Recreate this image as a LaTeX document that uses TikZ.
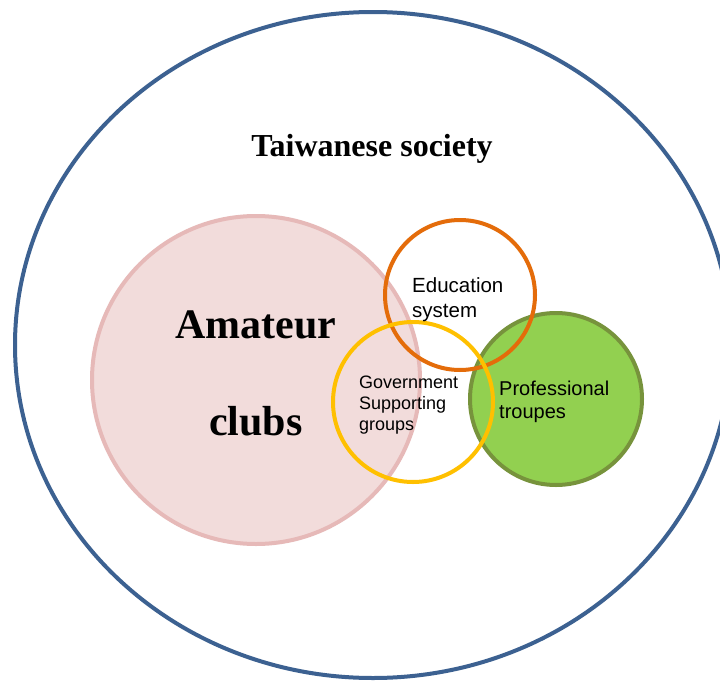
\documentclass[tikz,border=0pt]{standalone}
\usepackage{fontspec}
\usetikzlibrary{shapes.geometric}
\setmainfont{Liberation Serif}
\setsansfont{Liberation Sans}
\definecolor{outerblue}{HTML}{3C6191}
\definecolor{amafill}{HTML}{F2DCDB}
\definecolor{amaline}{HTML}{E6B9B8}
\definecolor{eduline}{HTML}{E46C0A}
\definecolor{govline}{HTML}{FFC000}
\definecolor{profill}{HTML}{92D050}
\definecolor{proline}{HTML}{77933C}
\tikzset{
  ring/.style={circle, inner sep=0pt, line width=4pt},
  serifbig/.style={font=\bfseries\fontsize{42}{97}\selectfont, align=center, inner sep=0pt},
  sanslabel/.style={align=left, inner sep=0pt}
}
\begin{document}
\begin{tikzpicture}[x=1pt,y=-1pt]
\useasboundingbox (0,0) rectangle (720,680);
\clip (0,0) rectangle (720,680);
\fill[white] (0,0) rectangle (720,680);
\node[draw=outerblue, line width=4pt, ellipse, minimum width=716pt, minimum height=666pt, inner sep=0pt] (society) at (373,345) {};
\node[ring, draw=amaline, fill=amafill, minimum size=328pt] (amateur) at (256,380) {};
\node[ring, draw=proline, fill=profill, minimum size=172pt] (pro) at (556,399) {};
\node[ring, draw=eduline, minimum size=150pt] (edu) at (460,295) {};
\node[ring, draw=govline, minimum size=160pt] (gov) at (413,402) {};
\node[font=\bfseries\fontsize{32}{36}\selectfont, anchor=base, inner sep=0pt] (title) at (372,156) {Taiwanese society};
\node[serifbig, anchor=base] (amatext) at (256,435) {Amateur\\clubs};
\node[sanslabel, font=\sffamily\fontsize{20.5}{25}\selectfont, anchor=base west] (edutext) at (412,317) {Education\\system};
\node[sanslabel, font=\sffamily\fontsize{18}{21}\selectfont, anchor=base west] (govtext) at (359,430) {Government\\Supporting\\groups};
\node[sanslabel, font=\sffamily\fontsize{20}{23}\selectfont, anchor=base west] (protext) at (499,418) {Professional\\troupes};
\end{tikzpicture}
\end{document}
